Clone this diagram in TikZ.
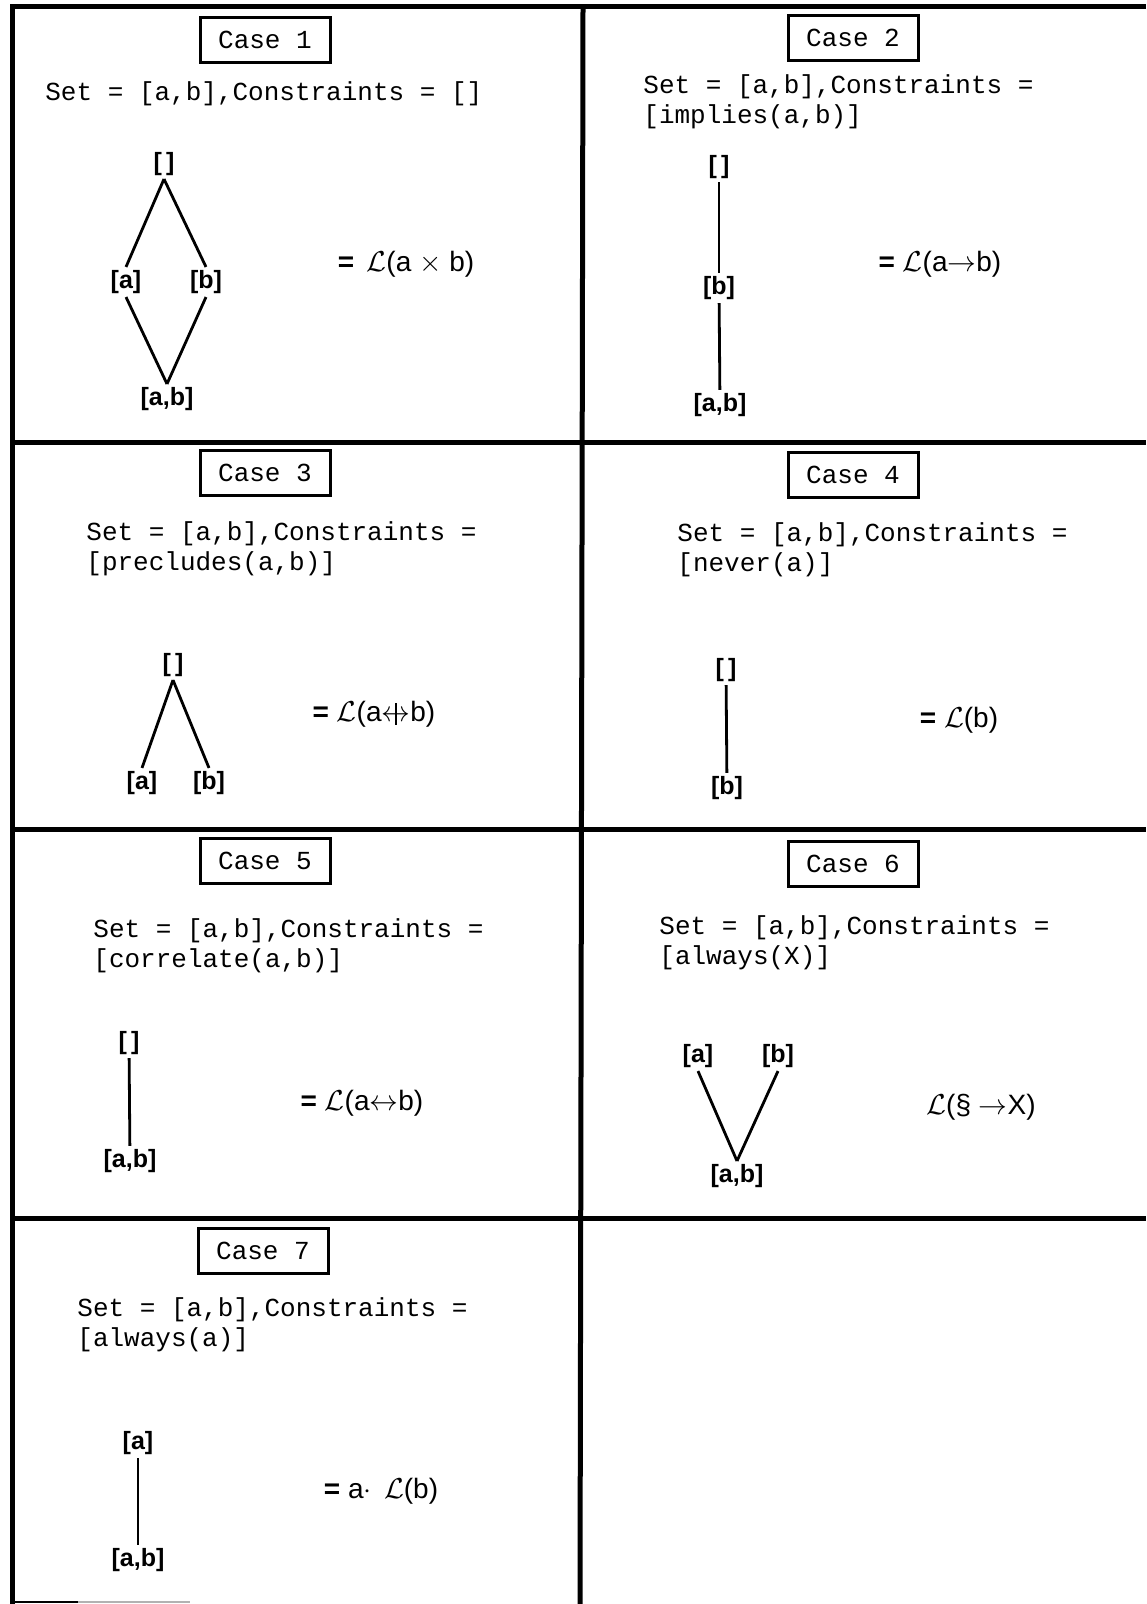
\documentclass[tikz,border=0pt]{standalone}
\usepackage{fontspec}
\usepackage{amsmath}
\setmainfont{Liberation Sans}
\setmonofont{Liberation Mono}

\newcommand{\nbiarrow}{\ooalign{$\leftrightarrow$\cr\hidewidth\rule[-0.25ex]{0.6pt}{1.5ex}\hidewidth\cr}}

\tikzset{
  frameline/.style={line width=2.5pt},
  casebox/.style={draw, line width=1.5pt, minimum width=65pt, minimum height=22.5pt,
    inner sep=0pt, font=\fontsize{13}{15}\ttfamily},
  settext/.style={anchor=west, align=left, inner sep=0pt, font=\fontsize{13}{15}\ttfamily},
  elem/.style={inner sep=1.5pt, font=\fontsize{12.5}{14}\bfseries},
  link/.style={line width=1.4pt},
  formula/.style={inner sep=0pt, font=\fontsize{14}{16}\selectfont},
}

\begin{document}
\begin{tikzpicture}[x=0.5pt, y=-0.5pt]
  \useasboundingbox (0,0) rectangle (1146,1604);

  % table frame
  \draw[frameline] (12,1604) -- (12,7) -- (1146,7);
  \draw[frameline] (583,7) -- (580,1604);
  \draw[frameline] (12,443) -- (1146,443);
  \draw[frameline] (12,829) -- (1146,829);
  \draw[frameline] (12,1218) -- (1146,1218);
  \draw[line width=0.8pt] (12,1602) -- (78,1602);
  \draw[line width=0.8pt, gray!60] (78,1602) -- (190,1602);

  % Case 1
  \node[casebox] (case1) at (265,40) {Case 1};
  \node[settext] (set1) at (45,94) {Set = [a,b],Constraints = []};
  \node[elem] (t1) at (164,164) {[\,]};
  \node[elem] (a1) at (126,282) {[a]};
  \node[elem] (b1) at (206,282) {[b]};
  \node[elem] (ab1) at (167,399) {[a,b]};
  \draw[link] (t1.south) -- (a1.north);
  \draw[link] (t1.south) -- (b1.north);
  \draw[link] (a1.south) -- (ab1.north);
  \draw[link] (b1.south) -- (ab1.north);
  \node[formula] (f1) at (406,264) {\textbf{=}\, $\mathcal{L}$(a $\times$ b)};

  % Case 2
  \node[casebox] (case2) at (853,38) {Case 2};
  \node[settext] (set2) at (643,102) {Set = [a,b],Constraints =\\{}[implies(a,b)]};
  \node[elem] (t2) at (719,167) {[\,]};
  \node[elem] (b2) at (719,288) {[b]};
  \node[elem] (ab2) at (720,405) {[a,b]};
  \draw[link] (t2) -- (b2);
  \draw[link] (b2) -- (ab2);
  \node[formula] (f2) at (940,264) {\textbf{=} $\mathcal{L}$(a$\rightarrow$b)};

  % Case 3
  \node[casebox] (case3) at (265,473) {Case 3};
  \node[settext] (set3) at (86,549) {Set = [a,b],Constraints =\\{}[precludes(a,b)]};
  \node[elem] (t3) at (173,665) {[\,]};
  \node[elem] (a3) at (142,783) {[a]};
  \node[elem] (b3) at (209,783) {[b]};
  \draw[link] (t3.south) -- (a3.north);
  \draw[link] (t3.south) -- (b3.north);
  \node[formula] (f3) at (374,714) {\textbf{=} $\mathcal{L}$(a\nbiarrow b)};

  % Case 4
  \node[casebox] (case4) at (853,475) {Case 4};
  \node[settext] (set4) at (677,550) {Set = [a,b],Constraints =\\{}[never(a)]};
  \node[elem] (t4) at (726,670) {[\,]};
  \node[elem] (b4) at (727,788) {[b]};
  \draw[link] (t4) -- (b4);
  \node[formula] (f4) at (959,720) {\textbf{=} $\mathcal{L}$(b)};

  % Case 5
  \node[casebox] (case5) at (265,861) {Case 5};
  \node[settext] (set5) at (93,946) {Set = [a,b],Constraints =\\{}[correlate(a,b)]};
  \node[elem] (t5) at (129,1043) {[\,]};
  \node[elem] (ab5) at (130,1161) {[a,b]};
  \draw[link] (t5) -- (ab5);
  \node[formula] (f5) at (362,1103) {\textbf{=} $\mathcal{L}$(a$\leftrightarrow$b)};

  % Case 6
  \node[casebox] (case6) at (853,864) {Case 6};
  \node[settext] (set6) at (659,943) {Set = [a,b],Constraints =\\{}[always(X)]};
  \node[elem] (a6) at (698,1056) {[a]};
  \node[elem] (b6) at (778,1056) {[b]};
  \node[elem] (ab6) at (737,1176) {[a,b]};
  \draw[link] (a6.south) -- (ab6.north);
  \draw[link] (b6.south) -- (ab6.north);
  \node[formula] (f6) at (981,1107) {$\mathcal{L}$(\S{} $\rightarrow$X)};

  % Case 7
  \node[casebox] (case7) at (263,1251) {Case 7};
  \node[settext] (set7) at (77,1325) {Set = [a,b],Constraints =\\{}[always(a)]};
  \node[elem] (a7) at (138,1443) {[a]};
  \node[elem] (ab7) at (138,1560) {[a,b]};
  \draw[link] (a7) -- (ab7);
  \node[formula] (f7) at (381,1491) {\textbf{=} a$\cdot$\, $\mathcal{L}$(b)};
\end{tikzpicture}
\end{document}
